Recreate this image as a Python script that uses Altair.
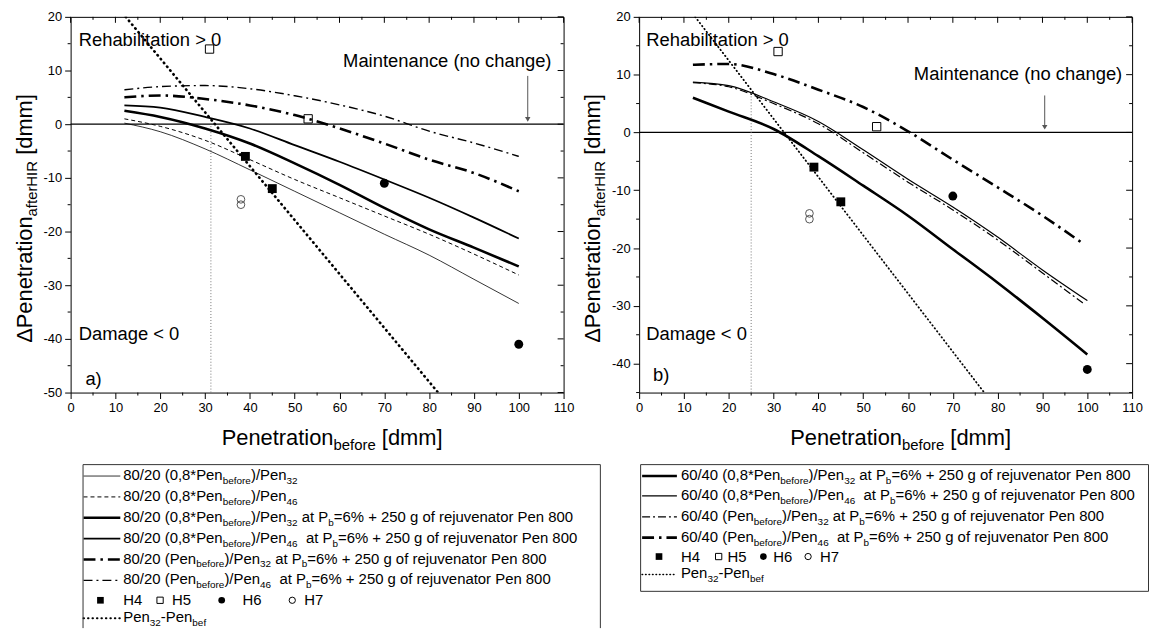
import altair as alt
import pandas as pd

FONT = "Liberation Sans"

# ---------------- data ----------------
# panel a) 80/20
xa = [12, 20, 30, 40, 50, 60, 70, 80, 90, 100]
a_p32 = [0.2, -1.4, -4.6, -8.5, -12.5, -16.5, -20.5, -24.4, -28.9, -33.4]
a_p46 = [1.0, -0.4, -3.0, -6.6, -10.3, -13.7, -17.1, -20.5, -24.2, -28.1]
a_p32_rej = [2.5, 1.35, -0.8, -3.6, -7.3, -11.3, -15.6, -19.6, -23.0, -26.5]
a_p46_rej = [3.5, 3.1, 1.35, -0.8, -3.9, -7.0, -10.3, -13.7, -17.4, -21.3]
a_full_p32_rej = [5.0, 5.35, 4.7, 3.5, 1.7, -0.8, -3.6, -6.6, -9.1, -12.5]
a_full_p46_rej = [6.4, 7.0, 7.2, 6.6, 5.3, 3.6, 1.5, -1.3, -3.5, -6.0]
a_dot_x = [12.3, 82]
a_dot_y = [20, -50]

# panel b) 60/40
xb = [12, 20, 30, 40, 50, 60, 70, 80, 90, 100]
b_p32_rej = [6.0, 3.6, 0.6, -4.1, -9.2, -14.4, -20.2, -26.0, -32.1, -38.4]
b_p46_rej = [8.7, 8.1, 5.3, 1.9, -3.0, -8.1, -12.9, -18.1, -23.8, -29.1]
xb2 = [12, 20, 30, 40, 50, 60, 70, 80, 90, 99]
b_full_p32_rej = [8.6, 7.9, 5.0, 1.5, -3.5, -8.6, -13.4, -18.6, -24.3, -29.5]
b_full_p46_rej = [11.7, 11.85, 10.1, 7.4, 4.4, 0.2, -4.7, -9.5, -14.4, -19.2]
b_dot_x = [12.5, 77]
b_dot_y = [20, -45]

# measured points (same in both panels)
h4_x = [39, 45]
h4_y = [-6, -12]
h5_x = [31, 53]
h5_y = [14, 1]
h6_x = [70, 100]
h6_y = [-11, -41]
h7_x = [38, 38]
h7_y = [-14, -15]

# legend labels: (text, is_subscript)
LEG_A = [
    [("80/20 (0,8*Pen", 0), ("before", 1), (")/Pen", 0), ("32", 1)],
    [("80/20 (0,8*Pen", 0), ("before", 1), (")/Pen", 0), ("46", 1)],
    [("80/20 (0,8*Pen", 0), ("before", 1), (")/Pen", 0), ("32", 1), (" at P", 0), ("b", 1), ("=6%  + 250 g of rejuvenator Pen 800", 0)],
    [("80/20 (0,8*Pen", 0), ("before", 1), (")/Pen", 0), ("46", 1), ("  at P", 0), ("b", 1), ("=6% + 250 g of rejuvenator Pen 800", 0)],
    [("80/20 (Pen", 0), ("before", 1), (")/Pen", 0), ("32", 1), (" at P", 0), ("b", 1), ("=6%  + 250 g of rejuvenator Pen 800", 0)],
    [("80/20 (Pen", 0), ("before", 1), (")/Pen", 0), ("46", 1), ("  at P", 0), ("b", 1), ("=6% + 250 g of rejuvenator Pen 800", 0)],
    None,
    [("Pen", 0), ("32", 1), ("-Pen", 0), ("bef", 1)],
]
LEG_B = [
    [("60/40 (0,8*Pen", 0), ("before", 1), (")/Pen", 0), ("32", 1), (" at P", 0), ("b", 1), ("=6% + 250 g of rejuvenator Pen 800", 0)],
    [("60/40 (0,8*Pen", 0), ("before", 1), (")/Pen", 0), ("46", 1), ("  at P", 0), ("b", 1), ("=6% + 250 g of rejuvenator Pen 800", 0)],
    [("60/40 (Pen", 0), ("before", 1), (")/Pen", 0), ("32", 1), (" at P", 0), ("b", 1), ("=6%  + 250 g of rejuvenator Pen 800", 0)],
    [("60/40 (Pen", 0), ("before", 1), (")/Pen", 0), ("46", 1), ("  at P", 0), ("b", 1), ("=6% + 250 g of rejuvenator Pen 800", 0)],
    None,
    [("Pen", 0), ("32", 1), ("-Pen", 0), ("bef", 1)],
]
MARK_LABELS = ["H4", "H5", "H6", "H7"]

# ---------------- text metrics (Arial / Liberation Sans) ----------------
AW = {c: 556 for c in "0123456789"}
AW.update({' ': 278, '(': 333, ')': 333, '*': 389, '+': 584, ',': 278, '-': 333, '.': 278,
           '/': 278, '%': 889, '=': 584, '<': 584, '>': 584, '[': 278, ']': 278, 'Δ': 668})
AW.update(dict(zip("ABCDEFGHIJKLMNOPQRSTUVWXYZ",
                   [667, 667, 722, 722, 667, 611, 778, 722, 278, 500, 667, 556, 833, 722, 778, 667,
                    778, 722, 667, 611, 722, 667, 944, 667, 667, 611])))
AW.update(dict(zip("abcdefghijklmnopqrstuvwxyz",
                   [556, 556, 500, 556, 556, 278, 556, 556, 222, 222, 500, 222, 833, 556, 556, 556,
                    556, 333, 500, 278, 556, 500, 722, 500, 500, 500])))


def tw(s, size):
    return sum(AW.get(c, 556) for c in s) * size / 1000.0


W, H = 496, 378
TICK = 13
NOTE = 18.5
TITLE = 22
TSUB = 15
LMAIN, LSUB, LSUBDY = 15, 10, 4
ONE = pd.DataFrame({'k': [0]})


def text_layer(t, x, y, size, **kw):
    return alt.Chart(pd.DataFrame({'t': [t]})).mark_text(
        align='left', baseline='alphabetic', font=FONT, fontSize=size, color='black', **kw).encode(
        x=alt.value(x), y=alt.value(y), text='t:N')


def seg_layers(parts, x0, yb, main, sub, subdy):
    L = []
    x = x0
    for text, is_sub in parts:
        size = sub if is_sub else main
        stripped = text.lstrip(' ')
        x += tw(text[:len(text) - len(stripped)], size)
        core = stripped.rstrip(' ')
        L.append(text_layer(core, x, yb + (subdy if is_sub else 0), size))
        x += tw(stripped, size)
    return L


def legend_layers(rows, styles, centers, box, sample, text_x, marks, full_box):
    L = []
    for parts, c in zip(rows, centers):
        if parts is not None:
            L += seg_layers(parts, text_x, c + 5, LMAIN, LSUB, LSUBDY)
    for st, c in zip(styles, centers):
        if st is None:
            continue
        sw, dash, cap = st
        kw = dict(color='black', strokeWidth=sw, strokeCap=cap)
        if dash:
            kw['strokeDash'] = dash
        L.append(alt.Chart(ONE).mark_rule(**kw).encode(
            x=alt.value(sample[0]), x2=alt.value(sample[1]), y=alt.value(c + 1)))
    mi = [i for i, r in enumerate(rows) if r is None][0]
    mc = centers[mi] + 1
    specs = [('square', True, 45), ('square', False, 40), ('circle', True, 45), ('circle', False, 40)]
    for k, (shape, filled, size) in enumerate(specs):
        kw = dict(shape=shape, filled=filled, size=size, color='black', opacity=1)
        if not filled:
            kw['strokeWidth'] = 1
        L.append(alt.Chart(ONE).mark_point(**kw).encode(
            x=alt.value(marks[2 * k]), y=alt.value(mc)))
        L.append(text_layer(MARK_LABELS[k], marks[2 * k + 1], mc + 5, LMAIN))
    x1, x2, y1, y2 = box
    if full_box:
        L.append(alt.Chart(ONE).mark_rect(fillOpacity=0, stroke='#333', strokeWidth=1).encode(
            x=alt.value(x1), x2=alt.value(x2), y=alt.value(y1), y2=alt.value(y2)))
    else:
        L.append(alt.Chart(ONE).mark_rule(color='#333', strokeWidth=1).encode(
            x=alt.value(x1), x2=alt.value(x2), y=alt.value(y1)))
        L.append(alt.Chart(ONE).mark_rule(color='#333', strokeWidth=1).encode(
            x=alt.value(x1), y=alt.value(y1), y2=alt.value(y2)))
        L.append(alt.Chart(ONE).mark_rule(color='#333', strokeWidth=1).encode(
            x=alt.value(x2), y=alt.value(y1), y2=alt.value(y2)))
    return L


def panel(ymin, series, dot, dot_style, vline, arrow, notes, legend):
    xs = alt.Scale(domain=[0, 110], nice=False, zero=False)
    ys = alt.Scale(domain=[ymin, 20], nice=False, zero=False)
    ymaj = list(range(20, ymin - 1, -10))
    ymin_t = [v for v in range(15, ymin - 1, -10)]
    xmaj = list(range(0, 111, 10))
    xmin_t = list(range(5, 110, 10))
    common = dict(title=None, grid=False, domain=False, tickSize=6, tickColor='black', tickWidth=1,
                  labelFont=FONT, labelFontSize=TICK, labelColor='black', labelPadding=3,
                  labelOverlap=False, labelExpr="'' + datum.value")
    xax = alt.Axis(values=xmaj, labelFlush=False, **common)
    yax = alt.Axis(values=ymaj, **common)

    def X():
        return alt.X('x:Q', scale=xs, axis=xax)

    def Y():
        return alt.Y('y:Q', scale=ys, axis=yax)

    L = []
    L.append(alt.Chart(pd.DataFrame({'x': [0, 110], 'y': [0, 0]})).mark_line(
        color='black', strokeWidth=1.2).encode(x=X(), y=Y()))
    # minor / mirror ticks
    L.append(alt.Chart(pd.DataFrame({'x': xmin_t})).mark_rule(color='black').encode(
        x=X(), y=alt.value(H), y2=alt.value(H + 3)))
    L.append(alt.Chart(pd.DataFrame({'x': xmaj})).mark_rule(color='black').encode(
        x=X(), y=alt.value(0), y2=alt.value(6)))
    L.append(alt.Chart(pd.DataFrame({'x': xmin_t})).mark_rule(color='black').encode(
        x=X(), y=alt.value(0), y2=alt.value(3)))
    L.append(alt.Chart(pd.DataFrame({'y': ymin_t})).mark_rule(color='black').encode(
        y=Y(), x=alt.value(0), x2=alt.value(-3)))
    L.append(alt.Chart(pd.DataFrame({'y': ymaj})).mark_rule(color='black').encode(
        y=Y(), x=alt.value(W), x2=alt.value(W - 6)))
    L.append(alt.Chart(pd.DataFrame({'y': ymin_t})).mark_rule(color='black').encode(
        y=Y(), x=alt.value(W), x2=alt.value(W - 3)))
    # vertical grey dotted reference
    L.append(alt.Chart(pd.DataFrame({'x': [vline[0], vline[0]], 'y': [ymin, vline[1]]})).mark_line(
        color='#777', strokeWidth=1, strokeDash=[1, 2]).encode(x=X(), y=Y()))
    # series
    for sx, sy, sw, dash in series:
        kw = dict(color='black', strokeWidth=sw, interpolate='monotone', clip=True)
        if dash:
            kw['strokeDash'] = dash
        L.append(alt.Chart(pd.DataFrame({'x': sx, 'y': sy})).mark_line(**kw).encode(x=X(), y=Y()))
    L.append(alt.Chart(pd.DataFrame({'x': dot[0], 'y': dot[1]})).mark_line(
        color='black', strokeWidth=dot_style[0], strokeDash=dot_style[1], strokeCap='round',
        clip=True).encode(x=X(), y=Y()))
    # arrow
    L.append(alt.Chart(pd.DataFrame({'x': [arrow[0], arrow[0]], 'y': [arrow[1], 1.2]})).mark_line(
        color='#555', strokeWidth=1).encode(x=X(), y=Y()))
    L.append(alt.Chart(pd.DataFrame({'x': [arrow[0]], 'y': [0.9]})).mark_point(
        shape='triangle-down', filled=True, size=30, color='#555', opacity=1).encode(x=X(), y=Y()))
    # points
    L.append(alt.Chart(pd.DataFrame({'x': h4_x, 'y': h4_y})).mark_point(
        shape='square', filled=True, size=80, color='black', opacity=1).encode(x=X(), y=Y()))
    L.append(alt.Chart(pd.DataFrame({'x': h5_x, 'y': h5_y})).mark_point(
        shape='square', filled=False, size=70, color='black', strokeWidth=1, opacity=1).encode(x=X(), y=Y()))
    L.append(alt.Chart(pd.DataFrame({'x': h6_x, 'y': h6_y})).mark_point(
        shape='circle', filled=True, size=80, color='black', opacity=1).encode(x=X(), y=Y()))
    L.append(alt.Chart(pd.DataFrame({'x': h7_x, 'y': h7_y})).mark_point(
        shape='circle', filled=False, size=60, color='#555', strokeWidth=1, opacity=1).encode(x=X(), y=Y()))
    # annotations
    L.append(alt.Chart(pd.DataFrame(notes)).mark_text(
        align='left', baseline='middle', font=FONT, fontSize=NOTE, color='black').encode(
        x=X(), y=Y(), text='t:N'))
    # y title (rotated, with subscript)
    off = 0
    y0 = 328
    for text, is_sub in [("ΔPenetration", 0), ("afterHIR", 1), (" [dmm]", 0)]:
        size = TSUB if is_sub else TITLE
        stripped = text.lstrip(' ')
        lead = tw(text[:len(text) - len(stripped)], size)
        L.append(text_layer(stripped, -39 + (5 if is_sub else 0), y0 - off - lead, size, angle=270))
        off += tw(text, size)
    # x title
    parts = [("Penetration", 0), ("before", 1), (" [dmm]", 0)]
    L += seg_layers(parts, 152, H + 53, TITLE, TSUB, 5)
    # legend below the panel
    L += legend
    return alt.layer(*L).properties(width=W, height=H)


leg_a = legend_layers(
    LEG_A,
    [(0.8, None, 'butt'), (1.0, [4, 3], 'butt'), (2.6, None, 'butt'), (1.8, None, 'butt'),
     (2.6, [12, 5, 2.5, 5], 'butt'), (1.4, [9, 4, 2, 4], 'butt'), None, (2.0, [0.5, 4], 'round')],
    [461, 482, 503, 524, 545, 566, 586, 604],
    (12.5, 533, 450.5, 615), (13, 50), 53,
    [30, 53, 90, 102, 152, 173, 223, 235], False)

leg_b = legend_layers(
    LEG_B,
    [(2.6, None, 'butt'), (1.2, None, 'butt'), (1.2, [8, 3, 2, 3], 'butt'),
     (2.6, [12, 5, 2.5, 5], 'butt'), None, (1.6, [0.5, 3], 'round')],
    [461, 481, 502, 523, 542, 560],
    (1.5, 512.5, 450.5, 578), (3, 38), 42,
    [20, 42, 80, 89, 125, 135, 170, 182], True)

panel_a = panel(
    -50,
    [(xa, a_p32, 0.8, None), (xa, a_p46, 1.0, [4, 3]), (xa, a_p32_rej, 2.6, None),
     (xa, a_p46_rej, 1.8, None), (xa, a_full_p32_rej, 2.6, [12, 5, 2.5, 5]),
     (xa, a_full_p46_rej, 1.4, [9, 4, 2, 4])],
    (a_dot_x, a_dot_y), (2.6, [0.5, 4.5]), (31.3, 0.7), (102, 9.0),
    {'x': [1.8, 60.8, 1.8, 3.3], 'y': [15.7, 11.7, -39.1, -47.4],
     't': ["Rehabilitation > 0", "Maintenance (no change)", "Damage < 0", "a)"]},
    leg_a)

panel_b = panel(
    -45,
    [(xb, b_p32_rej, 2.6, None), (xb, b_p46_rej, 1.2, None),
     (xb2, b_full_p32_rej, 1.2, [8, 3, 2, 3]), (xb2, b_full_p46_rej, 2.6, [12, 5, 2.5, 5])],
    (b_dot_x, b_dot_y), (1.8, [0.5, 3.3]), (25, 7.0), (90.5, 6.4),
    {'x': [1.6, 61.3, 1.6, 3.1], 'y': [16.0, 10.1, -34.9, -41.9],
     't': ["Rehabilitation > 0", "Maintenance (no change)", "Damage < 0", "b)"]},
    leg_b)

chart = alt.hconcat(panel_a, panel_b, spacing=76, bounds='flush').properties(
    padding={'left': 5, 'top': 0, 'right': 0, 'bottom': 0}
).configure_view(stroke='black', strokeWidth=1)

chart.save("out.html", embed_options={"renderer": "svg", "actions": False})
